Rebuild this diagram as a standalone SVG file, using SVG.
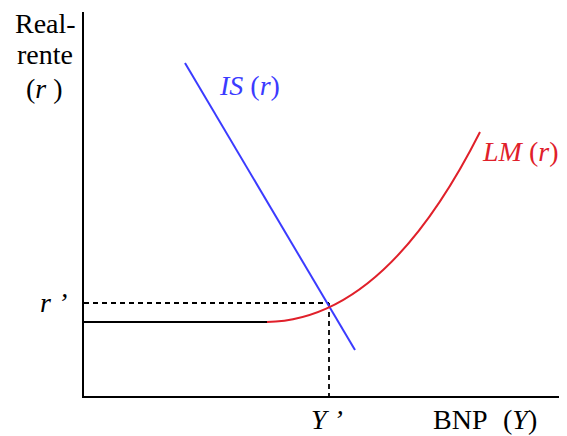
<svg xmlns="http://www.w3.org/2000/svg" width="567" height="436" viewBox="0 0 567 436">
<style>
text{font-family:"Liberation Serif","Times New Roman",serif;font-size:28px}
.it{font-style:italic}
.axis{stroke:#000;stroke-width:2;fill:none}
.dash{stroke:#000;stroke-width:1.8;stroke-dasharray:5,4;fill:none}
</style>
<rect width="567" height="436" fill="#fff"/>
<g id="axes">
<line class="axis" x1="83" y1="12" x2="83" y2="398"/>
<line class="axis" x1="82" y1="397" x2="559" y2="397"/>
</g>
<g id="connectors">
<line class="dash" x1="84" y1="303" x2="329" y2="303"/>
<line class="dash" x1="329" y1="303" x2="329" y2="397"/>
<line x1="83" y1="322" x2="268" y2="322" stroke="#000" stroke-width="2"/>
</g>
<g id="IS">
<line x1="185" y1="63" x2="355" y2="350" stroke="#3b3bff" stroke-width="2"/>
<text class="it" x="220" y="95" fill="#3b3bff">IS <tspan font-style="normal">(</tspan>r<tspan font-style="normal">)</tspan></text>
</g>
<g id="LM">
<path d="M267,322 Q385,320 480,132" stroke="#e0202a" stroke-width="2" fill="none"/>
<text class="it" x="483" y="161" fill="#e0202a">LM <tspan font-style="normal">(</tspan>r<tspan font-style="normal">)</tspan></text>
</g>
<g id="labels">
<text x="15" y="33">Real-</text>
<text x="17" y="64">rente</text>
<text x="26" y="98">(<tspan class="it">r</tspan> )</text>
<text class="it" x="40" y="312">r ’</text>
<text class="it" x="311" y="429">Y ’</text>
<text x="433" y="429">BNP</text>
<text x="503" y="429">(<tspan class="it">Y</tspan>)</text>
</g>
</svg>
